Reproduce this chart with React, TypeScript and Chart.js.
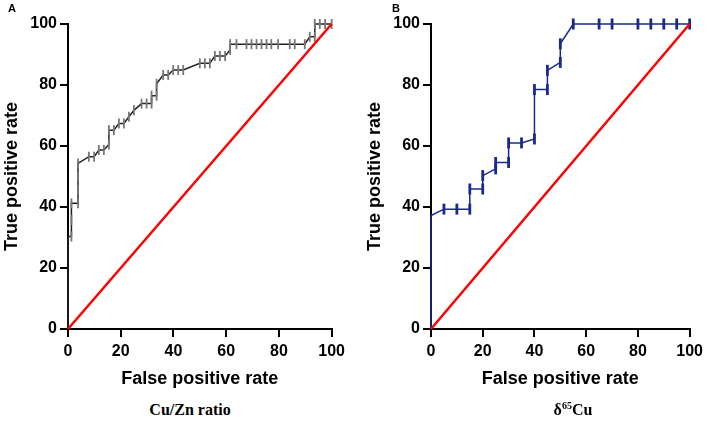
import React, { useEffect, useRef } from 'react';
import { Chart, registerables } from 'chart.js';

Chart.register(...registerables);

// ---------- data ----------
const axisTicks = [0, 20, 40, 60, 80, 100];
const refX = [0, 100];
const refY = [0, 100];

// Panel A: Cu/Zn ratio ROC curve (False positive rate, True positive rate)
const fprA = [
  0, 0, 1.3, 1.3, 1.3, 3.8, 3.8, 3.8, 3.8, 7.9, 9.9, 11.7, 13.6, 15.5, 15.5, 17.4, 19.3, 21.2,
  23.1, 25.0, 27.9, 29.8, 31.7, 31.7, 33.6, 33.6, 36.1, 38.0, 39.9, 41.8, 43.7, 50.0, 51.9,
  53.8, 55.7, 57.6, 59.6, 61.5, 61.5, 63.9, 67.7, 69.6, 71.5, 73.4, 75.3, 77.1, 79.7, 84.1,
  86.0, 89.8, 91.7, 93.6, 93.6, 95.5, 97.5, 100,
];
const tprA = [
  0, 30.3, 30.3, 35.7, 41.2, 41.2, 45.6, 50.0, 54.3, 56.5, 56.5, 58.7, 58.7, 60.5, 65.2, 65.2, 67.4, 67.4,
  69.6, 71.7, 73.9, 73.9, 73.9, 76.5, 76.5, 80.4, 83.3, 83.3, 84.9, 84.9, 84.9, 87.1, 87.1,
  87.1, 89.5, 89.5, 89.5, 91.5, 93.4, 93.4, 93.4, 93.4, 93.4, 93.4, 93.4, 93.4, 93.4, 93.4,
  93.4, 93.4, 95.8, 95.8, 100, 100, 100, 100,
];

// Panel B: δ65Cu ROC curve
const fprB = [0, 0, 5, 10, 15, 15, 20, 20, 25, 25, 30, 30, 35, 40, 40, 45, 45, 50, 50, 55, 65, 70, 80, 85, 90, 95, 100];
const tprB = [0, 37.2, 39.3, 39.3, 39.3, 45.9, 45.9, 50.3, 52.5, 54.6, 54.6, 61.0, 61.0, 62.3, 78.5, 78.5, 84.8, 87.4, 93.5, 100, 100, 100, 100, 100, 100, 100, 100];

const FONT = "'Liberation Sans', Arial, Helvetica, sans-serif";

function pts(xs: number[], ys: number[]) {
  return xs.map((x, i) => ({ x, y: ys[i] }));
}

function makeConfig(
  fpr: number[],
  tpr: number[],
  lineColor: string,
  tickColor: string,
  tickWidth: number,
  tickRadius: number,
  rightPad: number
): any {
  const axisCommon = (title: string) => ({
    type: 'linear',
    min: 0,
    max: 100,
    afterBuildTicks: (s: any) => {
      s.ticks = axisTicks.map((v) => ({ value: v }));
    },
    ticks: {
      color: '#000',
      font: { family: FONT, size: 16, weight: 'bold' },
      maxRotation: 0,
      autoSkip: false,
    },
    grid: {
      display: true,
      drawOnChartArea: false,
      drawTicks: true,
      tickLength: 8,
      color: '#000',
      lineWidth: 2,
    },
    border: { display: true, color: '#000', width: 2 },
    title: {
      display: true,
      text: title,
      color: '#000',
      font: { family: FONT, size: 18, weight: 'bold' },
    },
  });
  const x: any = axisCommon('False positive rate');
  x.ticks.padding = 5;
  x.title.padding = { top: 0, bottom: 10 };
  x.afterFit = (s: any) => {
    s.height = 71;
  };
  const y: any = axisCommon('True positive rate');
  y.ticks.padding = 3;
  y.title.padding = { top: 1, bottom: 0 };
  y.afterFit = (s: any) => {
    s.width = 68;
  };
  return {
    type: 'scatter',
    data: {
      datasets: [
        {
          data: pts(refX, refY),
          showLine: true,
          borderColor: '#ff0000',
          borderWidth: 2.5,
          pointRadius: 0,
          pointHoverRadius: 0,
          tension: 0,
          clip: false,
        },
        {
          data: pts(fpr, tpr),
          showLine: true,
          borderColor: lineColor,
          borderWidth: 1.5,
          tension: 0,
          pointStyle: 'line',
          pointRotation: 90,
          pointRadius: (ctx: any) => (ctx.raw && ctx.raw.x === 0 ? 0 : tickRadius),
          pointHoverRadius: (ctx: any) => (ctx.raw && ctx.raw.x === 0 ? 0 : tickRadius),
          pointBorderColor: tickColor,
          pointBackgroundColor: tickColor,
          pointBorderWidth: tickWidth,
          clip: false,
        },
      ],
    },
    options: {
      animation: false,
      responsive: false,
      maintainAspectRatio: false,
      events: [],
      layout: { padding: { left: 0, right: rightPad, top: 24, bottom: 0 } },
      plugins: { legend: { display: false }, tooltip: { enabled: false } },
      scales: { x, y },
    },
  };
}

function RocChart(props: { cfg: any; left: number; width: number; height: number }) {
  const ref = useRef<HTMLCanvasElement | null>(null);
  useEffect(() => {
    if (!ref.current) return;
    const chart = new Chart(ref.current, props.cfg);
    return () => chart.destroy();
  }, []);
  return (
    <canvas
      ref={ref}
      width={props.width}
      height={props.height}
      style={{ position: 'absolute', left: props.left, top: 0, width: props.width, height: props.height }}
    />
  );
}

export default function App() {
  const cfgA = makeConfig(fprA, tprA, '#222222', '#777777', 1.8, 5, 18);
  const cfgB = makeConfig(fprB, tprB, '#1a2a8c', '#1a2a8c', 2.8, 5.5, 13);
  const sub: React.CSSProperties = {
    position: 'absolute',
    top: 410,
    transform: 'translate(-50%, -50%)',
    fontFamily: "'Liberation Serif', 'Times New Roman', serif",
    fontWeight: 'bold',
    fontSize: 16,
    whiteSpace: 'nowrap',
    color: '#000',
    lineHeight: '18px',
  };
  const panelLabel: React.CSSProperties = {
    position: 'absolute',
    top: 2,
    fontFamily: FONT,
    fontWeight: 'bold',
    fontSize: 11,
    color: '#000',
  };
  return (
    <div style={{ position: 'absolute', left: 0, top: 0, width: 708, height: 422, background: '#fff', overflow: 'hidden' }}>
      <RocChart cfg={cfgA} left={0} width={350} height={400} />
      <RocChart cfg={cfgB} left={363} width={345} height={400} />
      <div style={{ ...panelLabel, left: 8 }}>A</div>
      <div style={{ ...panelLabel, left: 392 }}>B</div>
      <div style={{ ...sub, left: 190 }}>Cu/Zn ratio</div>
      <div style={{ ...sub, left: 573 }}>
        δ<sup style={{ fontSize: 10, verticalAlign: 'super', lineHeight: 0 }}>65</sup>Cu
      </div>
    </div>
  );
}
